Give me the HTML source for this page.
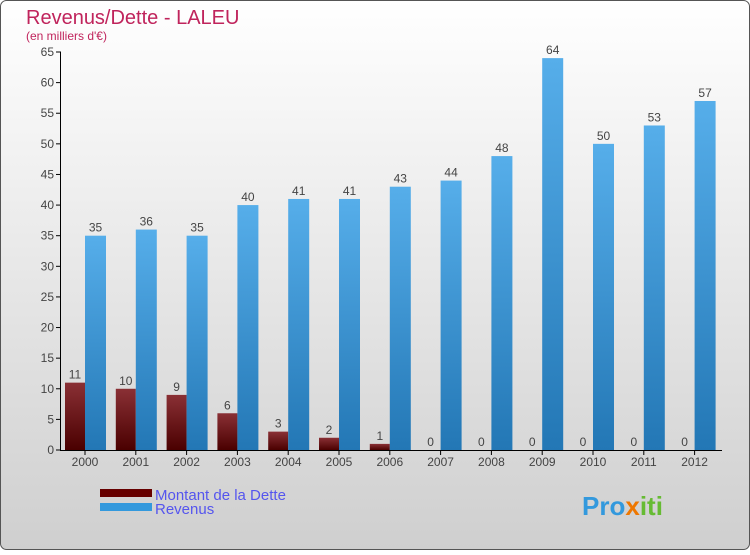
<!DOCTYPE html>
<html><head><meta charset="utf-8"><style>
body{margin:0}
svg text{font-family:"Liberation Sans",sans-serif}
</style></head><body>
<svg id="c" width="750" height="550" xmlns="http://www.w3.org/2000/svg">
<defs>
<linearGradient id="bg" x1="0" y1="0" x2="0" y2="1"><stop offset="0" stop-color="#ffffff"/><stop offset="1" stop-color="#cfcfcf"/></linearGradient>
<linearGradient id="gr" x1="0" y1="0" x2="0" y2="1"><stop offset="0" stop-color="#8a3035"/><stop offset="1" stop-color="#4a0000"/></linearGradient>
<linearGradient id="gb" x1="0" y1="0" x2="0" y2="1"><stop offset="0" stop-color="#56aeea"/><stop offset="1" stop-color="#2377b5"/></linearGradient>
</defs>
<rect x="0.5" y="0.5" width="749" height="549" rx="6" fill="url(#bg)" stroke="#555"/>
<text x="26" y="24" font-size="20" fill="#c0245c">Revenus/Dette - LALEU</text>
<text x="26" y="40" font-size="12" fill="#c0245c">(en milliers d'€)</text>
<g id="plot"></g>
<rect x="100" y="489" width="52" height="8" fill="#660000"/>
<rect x="100" y="503" width="52" height="8" fill="#3399dd"/>
<text x="155" y="500" font-size="15" fill="#5555ee">Montant de la Dette</text>
<text x="155" y="514" font-size="15" fill="#5555ee">Revenus</text>
<text x="582" y="515" font-size="26" font-weight="bold" fill="#3399dd">Pro<tspan fill="#ee7700">x</tspan><tspan fill="#66bb33">iti</tspan></text>
</svg>
<script>
const years=["2000","2001","2002","2003","2004","2005","2006","2007","2008","2009","2010","2011","2012"];
const dette=[11,10,9,6,3,2,1,0,0,0,0,0,0];
const revenus=[35,36,35,40,41,41,43,44,48,64,50,53,57];
const ticks=[0,5,10,15,20,25,30,35,40,45,50,55,60,65];
const NS="http://www.w3.org/2000/svg";
const g=document.getElementById('plot');
const y=v=>450-v*(398/65);
const x=i=>85+i*50.8;
function mk(t,a){const e=document.createElementNS(NS,t);for(const k in a)e.setAttribute(k,a[k]);g.appendChild(e);return e;}
ticks.forEach(t=>{
  const l=mk('line',{x1:56,x2:61,y1:y(t),y2:y(t),stroke:'#000'});
  
  
  const tx=mk('text',{x:54,y:y(t)+4,'font-size':12,fill:'#444','text-anchor':'end'});tx.textContent=t;
  
  
});
years.forEach((yr,i)=>{
  const r1=mk('rect',{x:x(i)-20,y:y(dette[i]),width:20,height:450-y(dette[i]),fill:'url(#gr)'});
  
  
  const r2=mk('rect',{x:x(i),y:y(revenus[i]),width:21,height:450-y(revenus[i]),fill:'url(#gb)'});
  
  
  const t1=mk('text',{x:x(i)-10,y:y(dette[i])-4,'font-size':12,fill:'#444','text-anchor':'middle'});t1.textContent=dette[i];
  
  
  const t2=mk('text',{x:x(i)+10.5,y:y(revenus[i])-4,'font-size':12,fill:'#444','text-anchor':'middle'});t2.textContent=revenus[i];
  
  
  const tk=mk('line',{x1:x(i),x2:x(i),y1:450,y2:455,stroke:'#000'});
  
  
  const xl=mk('text',{x:x(i),y:466,'font-size':12,fill:'#444','text-anchor':'middle'});xl.textContent=yr;
  
  
});
const ya=mk('line',{x1:60.5,x2:60.5,y1:52,y2:451,stroke:'#000'});


const xa=mk('line',{x1:60,x2:722,y1:450.5,y2:450.5,stroke:'#000'});


</script>
</body></html>
